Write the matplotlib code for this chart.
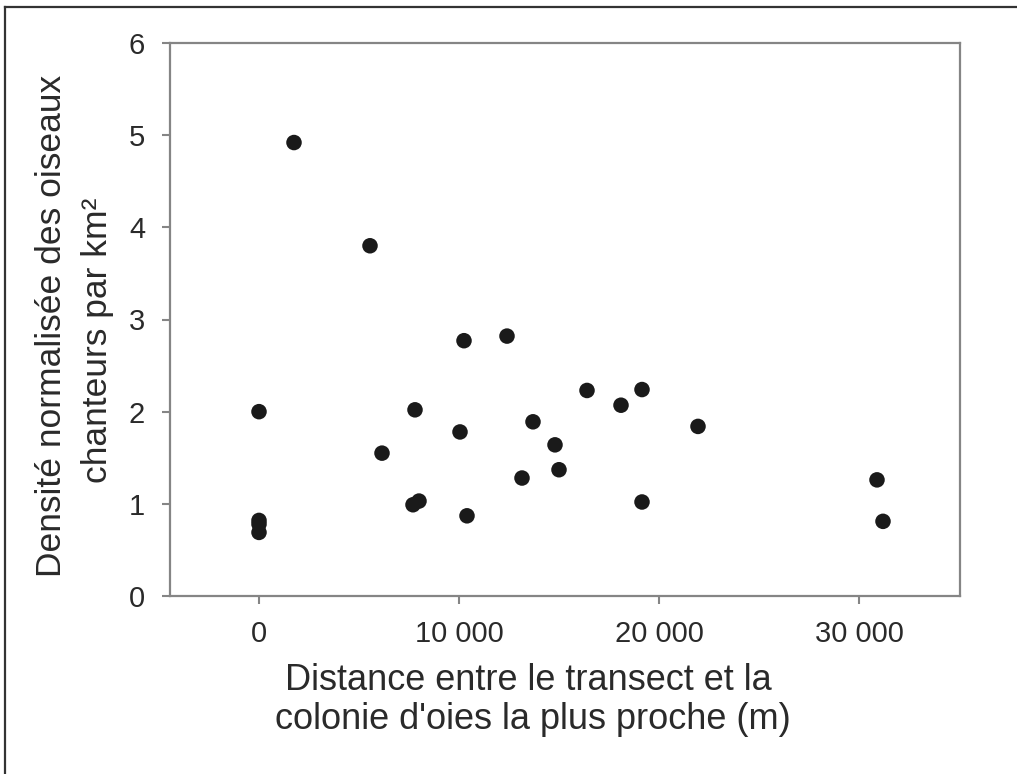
import matplotlib
matplotlib.use("Agg")
import matplotlib.pyplot as plt
from matplotlib.lines import Line2D

# Distance to nearest goose colony (m) vs normalised songbird density (per km2)
distance = [0, 0, 0, 0, 1750, 5550, 6150, 7800, 7700, 8000, 10050, 10250, 10400,
            12400, 13150, 13700, 14800, 15000, 16400, 18100, 19150, 19150, 21950,
            30900, 31200]
density = [2.00, 0.82, 0.78, 0.69, 4.92, 3.80, 1.55, 2.02, 0.99, 1.03, 1.78, 2.77, 0.87,
           2.82, 1.28, 1.89, 1.64, 1.37, 2.23, 2.07, 2.24, 1.02, 1.84,
           1.26, 0.81]

x_ticks = [0, 10000, 20000, 30000]
x_tick_labels = ["0", "10 000", "20 000", "30 000"]
y_ticks = [0, 1, 2, 3, 4, 5, 6]

plt.rcParams["font.family"] = ["Liberation Sans", "DejaVu Sans"]
text_color = "#2a2a2a"
axis_color = "#858585"

W, H = 1017, 774
fig = plt.figure(figsize=(W / 100, H / 100), dpi=100)
ax = fig.add_axes([170 / W, 1 - 596 / H, 790 / W, 553 / H])

ax.scatter(distance, density, s=125, color="#1a1a1a", edgecolors="none", zorder=3)

ax.set_xlim(-4450, 35050)
ax.set_ylim(0, 6)
ax.set_xticks(x_ticks)
ax.set_xticklabels(x_tick_labels)
ax.set_yticks(y_ticks)

for side in ax.spines.values():
    side.set_color(axis_color)
    side.set_linewidth(1.6)

ax.tick_params(axis="both", direction="out", length=6, width=1.5, color=axis_color,
               labelcolor=text_color, labelsize=21)
ax.tick_params(axis="y", pad=12)
ax.tick_params(axis="x", pad=11)

# axis titles, two lines each
fig.text(528 / W, 1 - 690 / H, "Distance entre le transect et la", fontsize=26,
         color=text_color, ha="center", va="baseline")
fig.text(533 / W, 1 - 729 / H, "colonie d'oies la plus proche (m)", fontsize=26,
         color=text_color, ha="center", va="baseline")
fig.text(61 / W, 1 - 326 / H, "Densité normalisée des oiseaux", fontsize=25.5,
         color=text_color, ha="center", va="baseline", rotation=90, rotation_mode="anchor")
fig.text(107 / W, 1 - 340 / H, "chanteurs par km²", fontsize=25.5,
         color=text_color, ha="center", va="baseline", rotation=90, rotation_mode="anchor")

# frame lines on the left and top edges of the picture
fig.add_artist(Line2D([5 / W, 5 / W], [0, 1 - 7 / H], transform=fig.transFigure,
                      color="#333333", lw=1.6))
fig.add_artist(Line2D([5 / W, 1], [1 - 7 / H, 1 - 7 / H], transform=fig.transFigure,
                      color="#333333", lw=1.6))

fig.savefig("out.png", dpi=100)
